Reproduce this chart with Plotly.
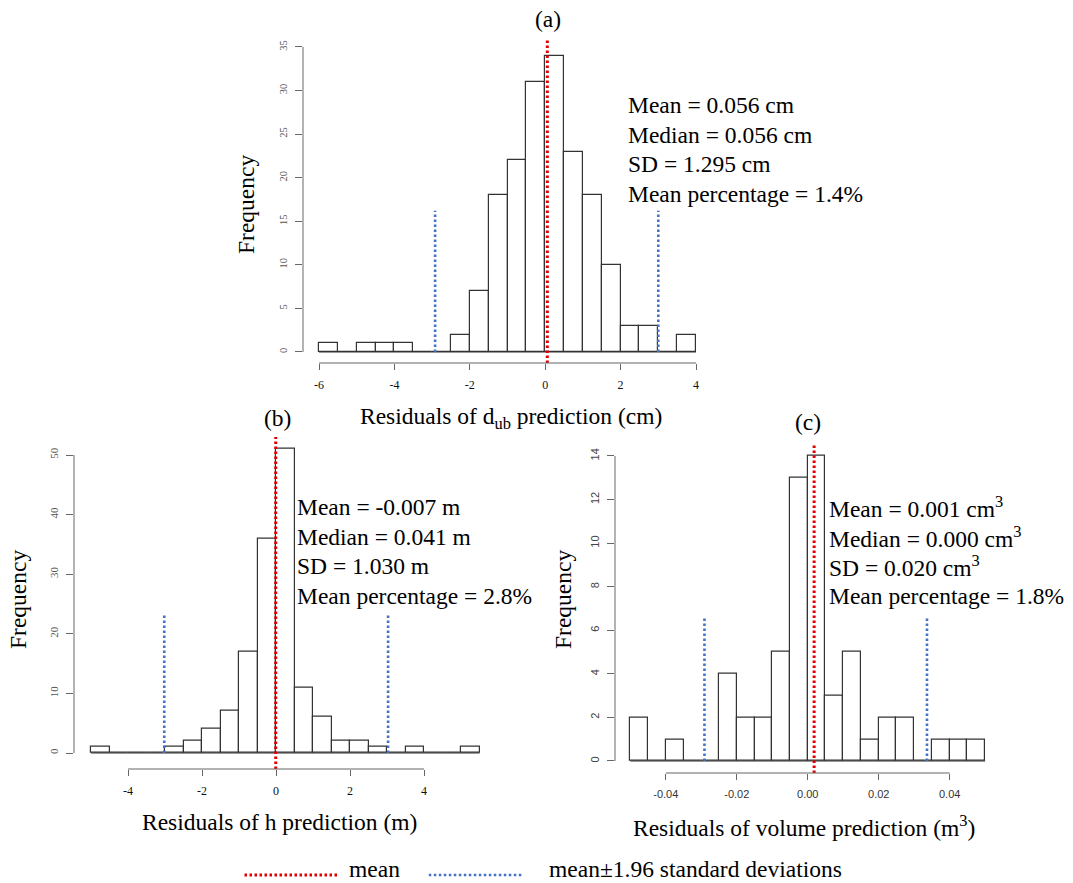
import plotly.graph_objects as go

W, H = 1073, 883

# ---------------- data ----------------
# Panel (a): residuals of d_ub prediction (cm)
a_bin_start = -6.0
a_bin_width = 0.5
a_counts = [1, 0, 1, 1, 1, 0, 0, 2, 7, 18, 22, 31, 34, 23, 18, 10, 3, 3, 0, 2]
a_xticks = [-6, -4, -2, 0, 2, 4]
a_xticklabels = ["-6", "-4", "-2", "0", "2", "4"]
a_yticks = [0, 5, 10, 15, 20, 25, 30, 35]
a_mean = 0.056
a_band = [-2.92, 3.0]
a_band_top = 16.2
a_mean_top = 36.0
a_stats = ["Mean = 0.056 cm", "Median = 0.056 cm", "SD = 1.295 cm", "Mean percentage = 1.4%"]
a_xlabel = "Residuals of d<sub>ub</sub> prediction (cm)"

# Panel (b): residuals of h prediction (m)
b_bin_start = -5.0
b_bin_width = 0.5
b_counts = [1, 0, 0, 0, 1, 2, 4, 7, 17, 36, 51, 11, 6, 2, 2, 1, 0, 1, 0, 0, 1]
b_xticks = [-4, -2, 0, 2, 4]
b_xticklabels = ["-4", "-2", "0", "2", "4"]
b_yticks = [0, 10, 20, 30, 40, 50]
b_mean = -0.007
b_band = [-3.02, 3.03]
b_band_top = 23.5
b_mean_top = 53.0
b_stats = ["Mean = -0.007 m", "Median = 0.041 m", "SD = 1.030 m", "Mean percentage = 2.8%"]
b_xlabel = "Residuals of h prediction (m)"

# Panel (c): residuals of volume prediction (m3)
c_bin_start = -0.05
c_bin_width = 0.005
c_counts = [2, 0, 1, 0, 0, 4, 2, 2, 5, 13, 14, 3, 5, 1, 2, 2, 0, 1, 1, 1]
c_xticks = [-0.04, -0.02, 0.0, 0.02, 0.04]
c_xticklabels = ["-0.04", "-0.02", "0.00", "0.02", "0.04"]
c_yticks = [0, 2, 4, 6, 8, 10, 12, 14]
c_mean = 0.0018
c_band = [-0.0291, 0.0336]
c_band_top = 6.56
c_mean_top = 14.55
c_stats = ["Mean = 0.001 cm<sup>3</sup>", "Median = 0.000 cm<sup>3</sup>",
           "SD = 0.020 cm<sup>3</sup>", "Mean percentage = 1.8%"]
c_xlabel = "Residuals of volume prediction (m<sup>3</sup>)"

legend_labels = ["mean", "mean\u00b11.96 standard deviations"]
panel_tags = ["(a)", "(b)", "(c)"]

# ---------------- styling / layout geometry ----------------
SERIF = "Liberation Serif, Times New Roman, serif"
SANS = "Liberation Sans, Arial, sans-serif"
BIG = 23.5
RED = "#e00000"
BLUE = "#4472c4"
EDGE = "#333333"
AXC = "#666666"
LEFT_PAD = 3  # annotation inner padding compensation (px)

panels = [
    dict(id="", counts=a_counts, start=a_bin_start, width=a_bin_width,
         xticks=a_xticks, xtl=a_xticklabels, yticks=a_yticks,
         mean=a_mean, band=a_band, band_top=a_band_top, mean_top=a_mean_top,
         stats=a_stats, xlabel=a_xlabel, tag=panel_tags[0],
         xcal=(-6, 319, 4, 696), ycal=(352, 47), yaxpx=303, xaxpy=363,
         xfont=dict(family=SERIF, size=12, color="#111"),
         yfont=dict(family=SERIF, size=10.5, color="#555"),
         stats_xy=(629, 105), xlabel_xy=(511, 418), tag_xy=(548, 19), freq_xy=(246, 205)),
    dict(id="2", counts=b_counts, start=b_bin_start, width=b_bin_width,
         xticks=b_xticks, xtl=b_xticklabels, yticks=b_yticks,
         mean=b_mean, band=b_band, band_top=b_band_top, mean_top=b_mean_top,
         stats=b_stats, xlabel=b_xlabel, tag=panel_tags[1],
         xcal=(-4, 128, 4, 424), ycal=(753, 455), yaxpx=74, xaxpy=769,
         xfont=dict(family=SERIF, size=12, color="#111"),
         yfont=dict(family=SERIF, size=11, color="#555"),
         stats_xy=(298, 507), xlabel_xy=(280, 822), tag_xy=(277, 418), freq_xy=(18, 600)),
    dict(id="3", counts=c_counts, start=c_bin_start, width=c_bin_width,
         xticks=c_xticks, xtl=c_xticklabels, yticks=c_yticks,
         mean=c_mean, band=c_band, band_top=c_band_top, mean_top=c_mean_top,
         stats=c_stats, xlabel=c_xlabel, tag=panel_tags[2],
         xcal=(-0.04, 665.8, 0.04, 949.7), ycal=(761, 456), yaxpx=615, xaxpy=773,
         xfont=dict(family=SANS, size=11, color="#333"),
         yfont=dict(family=SANS, size=11, color="#444"),
         stats_xy=(830, 507), xlabel_xy=(804, 826), tag_xy=(808, 422), freq_xy=(563, 600)),
]

STAT_DY = 29.6


def px2x(px):
    return px / W


def py2y(py):
    return 1 - py / H


fig = go.Figure()
shapes = []
annotations = []
layout_axes = {}

for p in panels:
    xa = "x" + p["id"]
    ya = "y" + p["id"]
    n = len(p["counts"])
    centers = [p["start"] + (i + 0.5) * p["width"] for i in range(n)]
    end = p["start"] + n * p["width"]

    # x scale from pixel calibration
    v0, x0px, v1, x1px = p["xcal"]
    sx = (x1px - x0px) / (v1 - v0)
    xlo = v0 + (p["yaxpx"] - x0px) / sx
    xhi = max(end, v1) + (v0 - xlo) * 0.5
    dom_x = [px2x(x0px + (xlo - v0) * sx), px2x(x0px + (xhi - v0) * sx)]

    # y scale from pixel calibration
    y0px, ytop_px = p["ycal"]
    ymax = p["yticks"][-1]
    sy = (y0px - ytop_px) / ymax
    ylo = -(p["xaxpy"] - y0px) / sy
    yhi = p["mean_top"] + 0.3 / sy
    dom_y = [py2y(y0px - ylo * sy), py2y(y0px - yhi * sy)]

    fig.add_trace(go.Bar(x=centers, y=p["counts"], width=p["width"],
                         marker=dict(color="white", line=dict(color=EDGE, width=1.2)),
                         xaxis=xa, yaxis=ya, showlegend=False, hoverinfo="x+y"))
    fig.add_trace(go.Scatter(x=[p["start"], end], y=[0, 0], mode="lines",
                             line=dict(color=EDGE, width=1.2),
                             xaxis=xa, yaxis=ya, showlegend=False, hoverinfo="skip"))
    fig.add_trace(go.Scatter(x=[p["band"][0], p["band"][0], None, p["band"][1], p["band"][1]],
                             y=[0, p["band_top"], None, 0, p["band_top"]], mode="lines",
                             line=dict(color=BLUE, width=2.6, dash="2.5px,2.5px"),
                             xaxis=xa, yaxis=ya, showlegend=False, hoverinfo="skip"))
    fig.add_trace(go.Scatter(x=[p["mean"], p["mean"]], y=[ylo, p["mean_top"]], mode="lines",
                             line=dict(color=RED, width=3, dash="2.5px,2.5px"),
                             xaxis=xa, yaxis=ya, showlegend=False, hoverinfo="skip"))

    layout_axes["xaxis" + p["id"]] = dict(
        domain=dom_x, range=[xlo, xhi], anchor=ya, tickmode="array",
        tickvals=p["xticks"], ticktext=p["xtl"], ticks="outside", ticklen=6,
        tickcolor=AXC, tickwidth=1, showgrid=False, zeroline=False, showline=False,
        tickfont=p["xfont"], ticklabelstandoff=5, fixedrange=True)
    layout_axes["yaxis" + p["id"]] = dict(
        domain=dom_y, range=[ylo, yhi], anchor=xa, tickmode="array",
        tickvals=p["yticks"], ticktext=[str(t) for t in p["yticks"]], ticks="outside",
        ticklen=7, tickcolor=AXC, tickwidth=1, tickangle=-90, showgrid=False,
        zeroline=False, showline=False, tickfont=p["yfont"], ticklabelstandoff=4,
        fixedrange=True)

    # R-style axis lines spanning only the tick range
    shapes.append(dict(type="line", xref=xa, yref=ya + " domain",
                       x0=p["xticks"][0], x1=p["xticks"][-1], y0=0, y1=0,
                       line=dict(color=AXC, width=1)))
    shapes.append(dict(type="line", xref=xa + " domain", yref=ya,
                       x0=0, x1=0, y0=p["yticks"][0], y1=p["yticks"][-1],
                       line=dict(color=AXC, width=1)))

    sx_px, sy_px = p["stats_xy"]
    for k, s in enumerate(p["stats"]):
        annotations.append(dict(text=s, xref="paper", yref="paper",
                                x=px2x(sx_px - LEFT_PAD), y=py2y(sy_px + k * STAT_DY),
                                xanchor="left", yanchor="middle", showarrow=False,
                                font=dict(family=SERIF, size=BIG, color="black")))
    lx, ly = p["xlabel_xy"]
    annotations.append(dict(text=p["xlabel"], xref="paper", yref="paper",
                            x=px2x(lx), y=py2y(ly), xanchor="center", yanchor="middle",
                            showarrow=False, font=dict(family=SERIF, size=BIG, color="black")))
    tx, ty = p["tag_xy"]
    annotations.append(dict(text=p["tag"], xref="paper", yref="paper",
                            x=px2x(tx), y=py2y(ty), xanchor="center", yanchor="middle",
                            showarrow=False, font=dict(family=SERIF, size=BIG, color="black")))
    fx, fy = p["freq_xy"]
    annotations.append(dict(text="Frequency", xref="paper", yref="paper", textangle=-90,
                            x=px2x(fx), y=py2y(fy), xanchor="center", yanchor="middle",
                            showarrow=False, font=dict(family=SERIF, size=BIG, color="black")))

# legend (drawn manually, R style)
leg_items = [
    (RED, 3, 244.5, 337.5, 875, legend_labels[0], 349.6),
    (BLUE, 2.6, 428.8, 521.8, 875, legend_labels[1], 550),
]
for color, lw, lx0, lx1, lyy, label, tx in leg_items:
    shapes.append(dict(type="line", xref="paper", yref="paper",
                       x0=px2x(lx0), x1=px2x(lx1), y0=py2y(lyy), y1=py2y(lyy),
                       line=dict(color=color, width=lw, dash="2.5px,2.5px")))
    annotations.append(dict(text=label, xref="paper", yref="paper",
                            x=px2x(tx - LEFT_PAD), y=py2y(869), xanchor="left", yanchor="middle",
                            height=24, valign="middle",
                            showarrow=False, font=dict(family=SERIF, size=BIG, color="black")))

fig.update_layout(
    width=W, height=H, margin=dict(l=0, r=0, t=0, b=0, pad=0),
    paper_bgcolor="white", plot_bgcolor="rgba(0,0,0,0)",
    showlegend=False, bargap=0, barmode="overlay",
    shapes=shapes, annotations=annotations,
    **layout_axes,
)

fig.write_html("out.html")
